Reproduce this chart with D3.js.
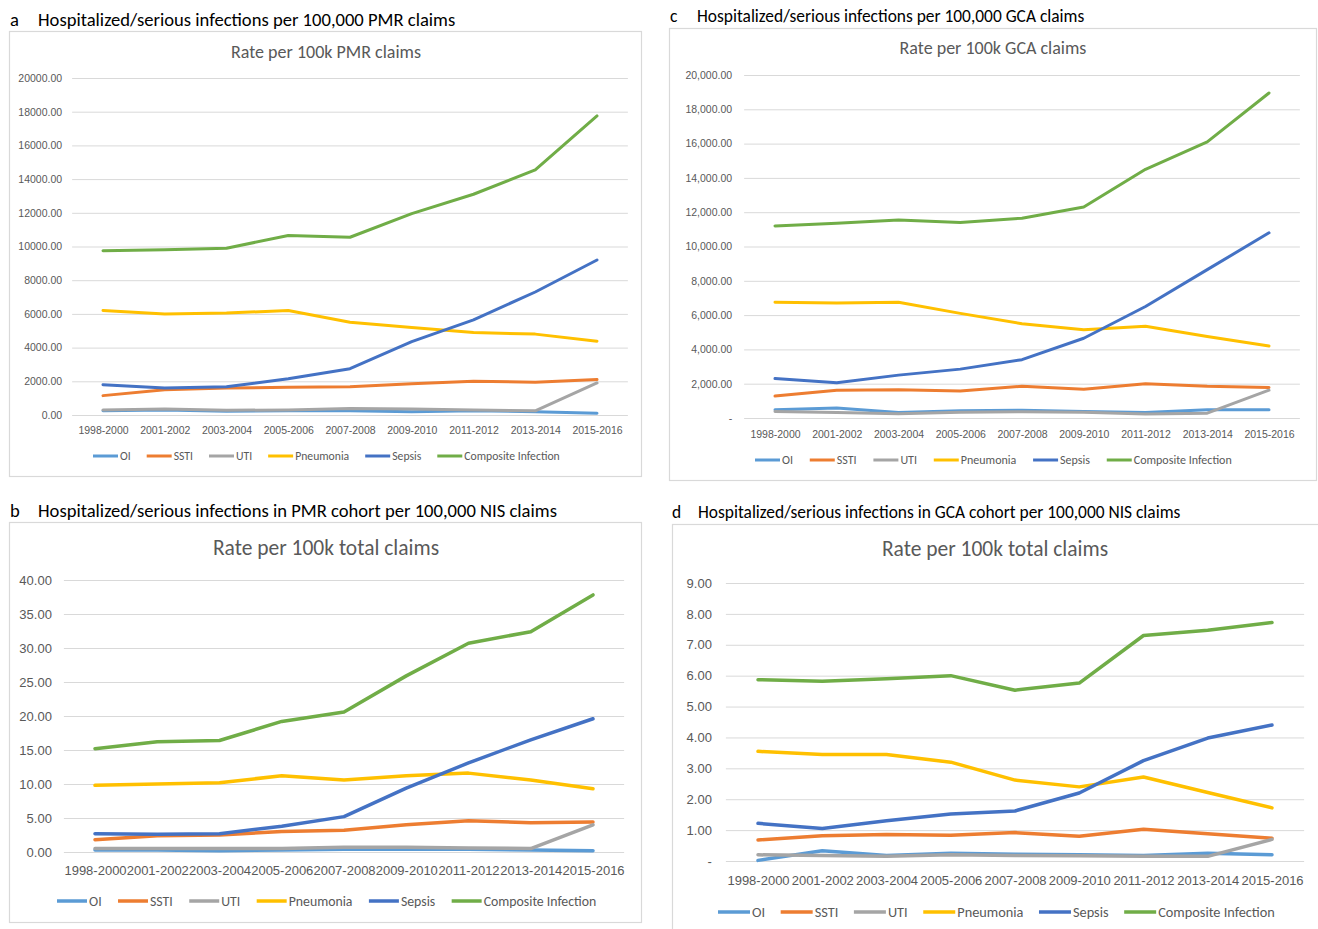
<!DOCTYPE html>
<html><head><meta charset="utf-8">
<script src="https://cdn.jsdelivr.net/npm/d3@7"></script>
<style>
body{margin:0;background:#fff;}
svg{display:block;font-family:"Carlito","Lato","Noto Sans",sans-serif;}
</style></head>
<body><svg id="c" width="1318" height="929"></svg>
<script>
const categories = ["1998-2000","2001-2002","2003-2004","2005-2006","2007-2008","2009-2010","2011-2012","2013-2014","2015-2016"];
const seriesNames = ["OI","SSTI","UTI","Pneumonia","Sepsis","Composite Infection"];
const seriesColors = ["#5B9BD5","#ED7D31","#A5A5A5","#FFC000","#4472C4","#70AD47"];

// Panel a: rate per 100k PMR claims
const aOI = [250,300,220,250,250,200,250,200,100];
const aSSTI = [1150,1500,1600,1650,1680,1850,2000,1950,2100];
const aUTI = [300,350,280,300,380,350,300,250,1900];
const aPneumonia = [6200,6000,6050,6200,5500,5200,4900,4800,4380];
const aSepsis = [1800,1600,1680,2150,2750,4350,5650,7300,9200];
const aComposite = [9750,9800,9900,10650,10550,11950,13100,14550,17750];
const aTicks = [0,2000,4000,6000,8000,10000,12000,14000,16000,18000,20000];

// Panel c: rate per 100k GCA claims
const cOI = [480,580,320,430,450,380,320,480,480];
const cSSTI = [1280,1620,1650,1570,1850,1680,2000,1850,1780];
const cUTI = [380,320,250,330,370,340,230,280,1620];
const cPneumonia = [6750,6700,6750,6100,5500,5150,5350,4750,4200];
const cSepsis = [2300,2050,2500,2850,3400,4650,6500,8650,10800];
const cComposite = [11200,11350,11550,11400,11650,12300,14500,16100,18950];
const cTicks = [0,2000,4000,6000,8000,10000,12000,14000,16000,18000,20000];

// Panel b: PMR cohort per 100k NIS claims
const bOI = [0.3,0.3,0.2,0.3,0.4,0.4,0.4,0.3,0.2];
const bSSTI = [1.8,2.4,2.5,3.0,3.2,4.0,4.6,4.3,4.4];
const bUTI = [0.5,0.5,0.5,0.5,0.7,0.7,0.6,0.5,4.0];
const bPneumonia = [9.8,10.0,10.2,11.2,10.6,11.2,11.6,10.6,9.3];
const bSepsis = [2.7,2.6,2.7,3.8,5.2,9.4,13.1,16.5,19.6];
const bComposite = [15.2,16.2,16.4,19.2,20.6,25.9,30.7,32.4,37.8];
const bTicks = [0,5,10,15,20,25,30,35,40];

// Panel d: GCA cohort per 100k NIS claims
const dOI = [0.02,0.33,0.18,0.25,0.22,0.2,0.18,0.25,0.2];
const dSSTI = [0.68,0.82,0.86,0.83,0.92,0.8,1.03,0.88,0.74];
const dUTI = [0.2,0.18,0.15,0.2,0.18,0.17,0.15,0.15,0.7];
const dPneumonia = [3.55,3.45,3.45,3.2,2.62,2.4,2.72,2.22,1.72];
const dSepsis = [1.22,1.05,1.3,1.52,1.62,2.2,3.25,3.98,4.4];
const dComposite = [5.87,5.82,5.9,6.0,5.53,5.76,7.3,7.47,7.72];
const dTicks = [0,1,2,3,4,5,6,7,8,9];

const svg = d3.select("#c");
const TXT = "#595959", GRID = "#D9D9D9";

function panel(o){
  const g = svg.append("g");
  // heading
  g.append("text").attr("x",o.letterX).attr("y",o.headY).attr("font-size",o.headSize).attr("fill","#000").text(o.letter);
  g.append("text").attr("x",o.headX).attr("y",o.headY).attr("font-size",o.headSize).attr("fill","#000").text(o.heading);
  // frame
  g.append("rect").attr("x",o.fx+0.5).attr("y",o.fy+0.5).attr("width",o.fw).attr("height",o.fh)
    .attr("fill","#fff").attr("stroke",GRID).attr("stroke-width",1.2);
  // chart title
  g.append("text").attr("x",o.titleX).attr("y",o.titleY).attr("text-anchor","middle")
    .attr("font-size",o.titleSize).attr("fill",TXT).text(o.title);
  const x = d3.scalePoint().domain(categories).range([o.x0,o.x1]);
  const bw = (o.x1-o.x0)/(categories.length-1);
  const y = d3.scaleLinear().domain([0,o.ticks[o.ticks.length-1]]).range([o.y0,o.y1]);
  // grid
  const yAxis = d3.axisLeft(y).tickValues(o.ticks).tickSize(-(o.x1-o.x0+bw)).tickPadding(o.tickPad).tickFormat(o.fmt);
  const ya = g.append("g").attr("transform",`translate(${o.x0-bw/2},0)`).call(yAxis);
  ya.select(".domain").remove();
  ya.selectAll("line").attr("stroke",GRID).attr("stroke-width",1);
  ya.selectAll("text").attr("fill",TXT).attr("font-size",o.yFont).attr("font-family","inherit");
  const xAxis = d3.axisBottom(x).tickSize(0).tickPadding(o.xPad);
  const xa = g.append("g").attr("transform",`translate(0,${o.y0})`).call(xAxis);
  xa.select(".domain").remove();
  xa.selectAll("text").attr("fill",TXT).attr("font-size",o.xFont).attr("font-family","inherit");
  // lines
  const line = d3.line().x((d,i)=>x(categories[i])).y(d=>y(d));
  o.data.forEach((s,i)=>{
    g.append("path").datum(s).attr("d",line).attr("fill","none")
      .attr("stroke",seriesColors[i]).attr("stroke-width",o.lw).attr("stroke-linejoin","round").attr("stroke-linecap","round");
  });
  // legend
  const lg = g.append("g");
  let cx = o.legX;
  seriesNames.forEach((n,i)=>{
    lg.append("line").attr("x1",cx).attr("x2",cx+o.legLine).attr("y1",o.legY).attr("y2",o.legY)
      .attr("stroke",seriesColors[i]).attr("stroke-width",o.lw);
    const t = lg.append("text").attr("x",cx+o.legLine+2).attr("y",o.legY).attr("dy","0.35em")
      .attr("font-size",o.legFont).attr("fill",TXT).text(n);
    cx += o.legLine + 2 + t.node().getComputedTextLength() + o.legGap;
  });
}

panel({letter:"a",letterX:10,headX:38,headY:26,headSize:18.6,heading:"Hospitalized/serious infections per 100,000 PMR claims",
  fx:9,fy:31,fw:632,fh:445,title:"Rate per 100k PMR claims",titleX:326,titleY:58,titleSize:18,
  x0:103,x1:597,y0:415,y1:78,ticks:aTicks,fmt:d3.format(".2f"),tickPad:10,yFont:10.5,xFont:10.5,xPad:12,lw:3,
  data:[aOI,aSSTI,aUTI,aPneumonia,aSepsis,aComposite],legX:93,legY:456,legLine:25,legGap:16,legFont:11.7});

panel({letter:"c",letterX:670,headX:697,headY:22,headSize:17.4,heading:"Hospitalized/serious infections per 100,000 GCA claims",
  fx:669,fy:28,fw:647,fh:452,title:"Rate per 100k GCA claims",titleX:993,titleY:54,titleSize:18,
  x0:775,x1:1269,y0:418,y1:75,ticks:cTicks,fmt:v=>v===0?"-":d3.format(",.2f")(v),tickPad:12,yFont:10.5,xFont:10.5,xPad:13,lw:3,
  data:[cOI,cSSTI,cUTI,cPneumonia,cSepsis,cComposite],legX:755,legY:460,legLine:25,legGap:16.8,legFont:12});

panel({letter:"b",letterX:10,headX:38,headY:517,headSize:18.6,heading:"Hospitalized/serious infections in PMR cohort per 100,000 NIS claims",
  fx:9,fy:522,fw:632,fh:400,title:"Rate per 100k total claims",titleX:326,titleY:555,titleSize:21.5,
  x0:95,x1:593,y0:852,y1:580,ticks:bTicks,fmt:d3.format(".2f"),tickPad:12,yFont:13,xFont:13,xPad:14,lw:3.5,
  data:[bOI,bSSTI,bUTI,bPneumonia,bSepsis,bComposite],legX:57,legY:901,legLine:30,legGap:16.4,legFont:13.8});

panel({letter:"d",letterX:672,headX:698,headY:518,headSize:17.4,heading:"Hospitalized/serious infections in GCA cohort per 100,000 NIS claims",
  fx:672,fy:524,fw:660,fh:420,title:"Rate per 100k total claims",titleX:995,titleY:556,titleSize:21.5,
  x0:758,x1:1272,y0:861,y1:583,ticks:dTicks,fmt:v=>v===0?"-":d3.format(".2f")(v),tickPad:14,yFont:13,xFont:13,xPad:15,lw:3.5,
  data:[dOI,dSSTI,dUTI,dPneumonia,dSepsis,dComposite],legX:718,legY:912,legLine:32,legGap:15.6,legFont:14.3});
</script></body></html>
